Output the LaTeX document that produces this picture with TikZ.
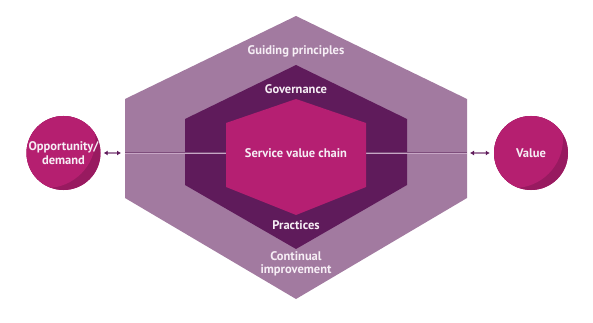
\documentclass[tikz,border=0pt]{standalone}
\usepackage{fontspec}
\setmainfont{PT Sans}
\usetikzlibrary{arrows.meta}

\definecolor{outerhex}{HTML}{A27AA0}
\definecolor{midhex}{HTML}{5F1B5B}
\definecolor{innerhex}{HTML}{B51F72}
\definecolor{bubblefill}{HTML}{B51F70}
\definecolor{bubbleshade}{HTML}{981A60}
\definecolor{labeltext}{HTML}{F6EEF5}
\definecolor{axisedge}{HTML}{7E4E7C}
\definecolor{axiscore}{HTML}{C7A6C5}
\definecolor{tipcolor}{HTML}{5F1B5B}
\definecolor{shaftcolor}{HTML}{A57DA3}

\begin{document}
\begin{tikzpicture}[
  x=1pt, y=-1pt,
  font=\bfseries\fontsize{12.5}{13.5}\selectfont,
  layer/.style={text=labeltext, align=center},
  bubble/.style={circle, minimum size=74pt, inner sep=0pt, fill=bubblefill,
    text=labeltext, align=center,
    path picture={
      \fill[bubbleshade] (path picture bounding box.center) circle (40pt);
      \fill[bubblefill] ([shift={(-17pt,14pt)}]path picture bounding box.center) circle (49pt);
    }},
  link/.style={{Latex[length=4pt,width=5pt,color=tipcolor]}-{Latex[length=4pt,width=5pt,color=tipcolor]},
    line width=1.1pt, draw=shaftcolor, shorten <=3pt, shorten >=4pt},
  axis/.style={draw=axisedge, double=axiscore, double distance=0.8pt, line width=0.6pt}
]
\useasboundingbox (0,0) rectangle (593,323);

% nested hexagons
\fill[outerhex] (296,16) -- (467,99) -- (467,198) -- (296,299) -- (125,198) -- (125,99) -- cycle;
\fill[midhex] (296,65) -- (407,119) -- (407,185) -- (296,249) -- (185,185) -- (185,119) -- cycle;

\coordinate (gpL) at (125,153);
\coordinate (gpR) at (467,153);
\draw[axis] (gpL) -- (gpR);

\fill[innerhex] (296,99) -- (366,123) -- (366,187) -- (296,215) -- (226,187) -- (226,123) -- cycle;

% layer labels
\node[layer] (gp) at (296,51) {Guiding principles};
\node[layer] (gov) at (296,89) {Governance};
\node[layer] (svc) at (296,153) {Service value chain};
\node[layer] (prac) at (296,225) {Practices};
\node[layer] (ci) at (296,264) {Continual\\improvement};

% inputs and outputs
\node[bubble] (opp) at (63.5,153) {Opportunity/\\demand};
\node[bubble] (val) at (531,153) {Value};

\draw[link] (opp) -- (gpL);
\draw[link] (gpR) -- (val);

\end{tikzpicture}
\end{document}
